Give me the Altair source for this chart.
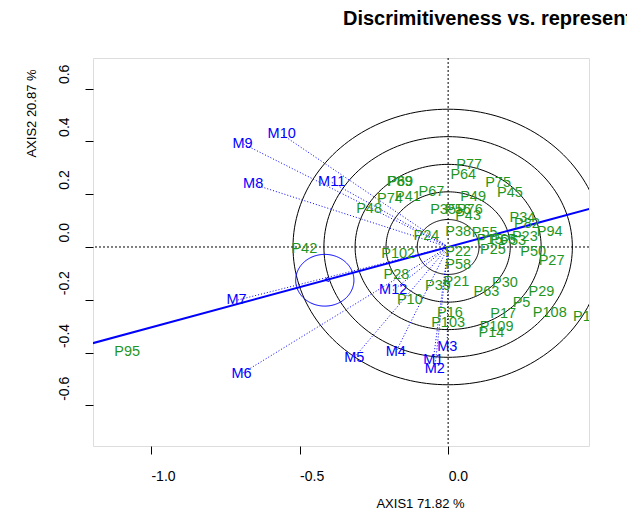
import altair as alt
import numpy as np
import pandas as pd

# ---- data ----
genotypes = ["P77", "P64", "P75", "P45", "P89", "P69", "P74", "P41", "P67", "P49",
             "P48", "P35", "P56", "P76", "P43", "P34", "P82", "P94", "P24", "P38",
             "P55", "P15", "P65", "P53", "P23", "P102", "P22", "P25", "P50", "P27",
             "P58", "P28", "P21", "P39", "P30", "P63", "P29", "P10", "P5", "P16",
             "P17", "P108", "P104", "P103", "P109", "P14", "P42", "P95"]
gen_x = [0.071, 0.051, 0.168, 0.208, -0.163, -0.161, -0.196, -0.135, -0.056, 0.084,
         -0.266, -0.017, 0.033, 0.073, 0.067, 0.250, 0.265, 0.342, -0.073, 0.034,
         0.123, 0.140, 0.185, 0.219, 0.258, -0.168, 0.034, 0.151, 0.286, 0.348,
         0.034, -0.174, 0.028, -0.034, 0.191, 0.129, 0.314, -0.129, 0.247, 0.006,
         0.185, 0.342, 0.477, 0.000, 0.163, 0.146, -0.484, -1.080]
gen_y = [0.310, 0.272, 0.244, 0.205, 0.246, 0.247, 0.183, 0.189, 0.208, 0.189,
         0.145, 0.139, 0.139, 0.142, 0.116, 0.108, 0.086, 0.057, 0.041, 0.057,
         0.053, 0.025, 0.028, 0.023, 0.036, -0.025, -0.019, -0.013, -0.019, -0.054,
         -0.067, -0.107, -0.133, -0.149, -0.136, -0.170, -0.170, -0.202, -0.214, -0.252,
         -0.255, -0.252, -0.265, -0.288, -0.303, -0.326, -0.006, -0.398]

environments = ["M1", "M2", "M3", "M4", "M5", "M6", "M7", "M8", "M9", "M10", "M11", "M12"]
env_x = [-0.050, -0.045, -0.003, -0.176, -0.316, -0.695, -0.712, -0.656, -0.692, -0.560, -0.392, -0.185]
env_y = [-0.427, -0.461, -0.379, -0.398, -0.419, -0.480, -0.202, 0.238, 0.392, 0.427, 0.245, -0.164]

circle_radii = [0.104, 0.209, 0.313, 0.418, 0.522]
aec_center_x = [-0.415]
aec_center_y = [-0.126]
aec_radius = [0.098]
aea_x = [-1.25, 0.50]
aea_y = [-0.381, 0.152]

x_ticks = [-1.0, -0.5, 0.0]
y_ticks = [-0.6, -0.4, -0.2, 0.0, 0.2, 0.4, 0.6]
x_domain = [-1.195, 0.474]
y_domain = [-0.754, 0.716]

FONT = "Liberation Sans"
GREEN = "#1f961f"
BLUE = "#0000ff"
LABEL_EXPR = "replace(format(datum.value, '.1f'), '\u2212', '-')"

# ---- tables ----
gen_df = pd.DataFrame({"name": genotypes, "x": gen_x, "y": gen_y})
env_df = pd.DataFrame({"name": environments, "x": env_x, "y": env_y,
                       "x0": [0.0] * len(env_x), "y0": [0.0] * len(env_y)})

ang = np.linspace(0, 2 * np.pi, 181)
rows = []
for i, r in enumerate(circle_radii):
    for j, a in enumerate(ang):
        rows.append({"ring": f"c{i}", "o": j, "x": r * np.cos(a), "y": r * np.sin(a)})
for i, (cx, cy, r) in enumerate(zip(aec_center_x, aec_center_y, aec_radius)):
    for j, a in enumerate(ang):
        rows.append({"ring": f"aec{i}", "o": j, "x": cx + r * np.cos(a), "y": cy + r * np.sin(a)})
circ_df = pd.DataFrame(rows)
rings_df = circ_df[~circ_df.ring.str.startswith("aec")]
aec_df = circ_df[circ_df.ring.str.startswith("aec")]

aea_df = pd.DataFrame({"x": aea_x, "y": aea_y})
aec_pt = pd.DataFrame({"x": aec_center_x, "y": aec_center_y})
zero_df = pd.DataFrame({"v": [0.0]})

# ---- scales / axes ----
xs = alt.Scale(domain=x_domain, nice=False, zero=False)
ys = alt.Scale(domain=y_domain, nice=False, zero=False)

xaxis = alt.Axis(values=x_ticks, labelExpr=LABEL_EXPR, grid=False, domain=False,
                 tickSize=8, tickColor="black", labelColor="black",
                 labelFont=FONT, labelFontSize=14, labelAlign="left",
                 labelBaseline="top", labelPadding=15, labelFlush=False,
                 title="AXIS1 71.82 %", titleFont=FONT, titleFontSize=13,
                 titleFontWeight="normal", titleColor="black",
                 titleX=327, titleY=61, titleAlign="center",
                 titleBaseline="alphabetic")
yaxis = alt.Axis(values=y_ticks, labelExpr=LABEL_EXPR, grid=False, domain=False,
                 tickSize=8, tickColor="black", labelColor="black",
                 labelFont=FONT, labelFontSize=14, labelAngle=270,
                 labelAlign="left", labelBaseline="alphabetic",
                 labelPadding=17, labelOffset=-5, labelFlush=False,
                 title="AXIS2 20.87 %", titleFont=FONT, titleFontSize=13,
                 titleFontWeight="normal", titleColor="black",
                 titleX=-58, titleY=55, titleAngle=270, titleAlign="center",
                 titleBaseline="alphabetic")


def X(f):
    return alt.X(f, type="quantitative", scale=xs, axis=xaxis)


def Y(f):
    return alt.Y(f, type="quantitative", scale=ys, axis=yaxis)


rings = alt.Chart(rings_df).mark_line(color="black", strokeWidth=1, clip=True).encode(
    x=X("x"), y=Y("y"), detail="ring:N", order="o:Q")

aec_circle = alt.Chart(aec_df).mark_line(color=BLUE, strokeWidth=1, clip=True).encode(
    x=X("x"), y=Y("y"), detail="ring:N", order="o:Q")

vzero = alt.Chart(zero_df).mark_rule(color="black", strokeWidth=1, strokeDash=[2, 2]).encode(x=X("v"))
hzero = alt.Chart(zero_df).mark_rule(color="black", strokeWidth=1, strokeDash=[2, 2]).encode(y=Y("v"))

env_lines = alt.Chart(env_df).mark_rule(color=BLUE, strokeWidth=1, strokeDash=[1, 2], clip=True).encode(
    x=X("x0"), y=Y("y0"), x2="x", y2="y")

aea_line = alt.Chart(aea_df).mark_line(color=BLUE, strokeWidth=2, clip=True).encode(
    x=X("x"), y=Y("y"))

arrow = alt.Chart(aec_pt).mark_point(shape="M1,-0.6L0,0L1,0.6", filled=False, color=BLUE,
                                     strokeWidth=1, size=60, angle=345, opacity=1).encode(
    x=X("x"), y=Y("y"))

gen_text = alt.Chart(gen_df).mark_text(font=FONT, fontSize=14.5, color=GREEN, clip=True,
                                       align="center", baseline="middle").encode(
    x=X("x"), y=Y("y"), text="name:N")

env_text = alt.Chart(env_df).mark_text(font=FONT, fontSize=14.5, color=BLUE, clip=True,
                                       align="center", baseline="middle").encode(
    x=X("x"), y=Y("y"), text="name:N")

chart = alt.layer(rings, aec_circle, vzero, hzero, env_lines, aea_line, arrow,
                  gen_text, env_text).properties(
    width=496, height=388,
    title=alt.TitleParams("Discrimitiveness vs. representativeness", anchor="start",
                          frame="group", dx=250, offset=29, font=FONT, fontSize=20,
                          fontWeight="bold", color="black"),
    autosize=alt.AutoSizeParams(type="none"),
    padding={"left": 85, "top": 50, "right": 38, "bottom": 64},
).configure_view(stroke="black", strokeWidth=1).configure(background="white")

chart.save("out.html", embed_options={"renderer": "svg", "actions": False})
